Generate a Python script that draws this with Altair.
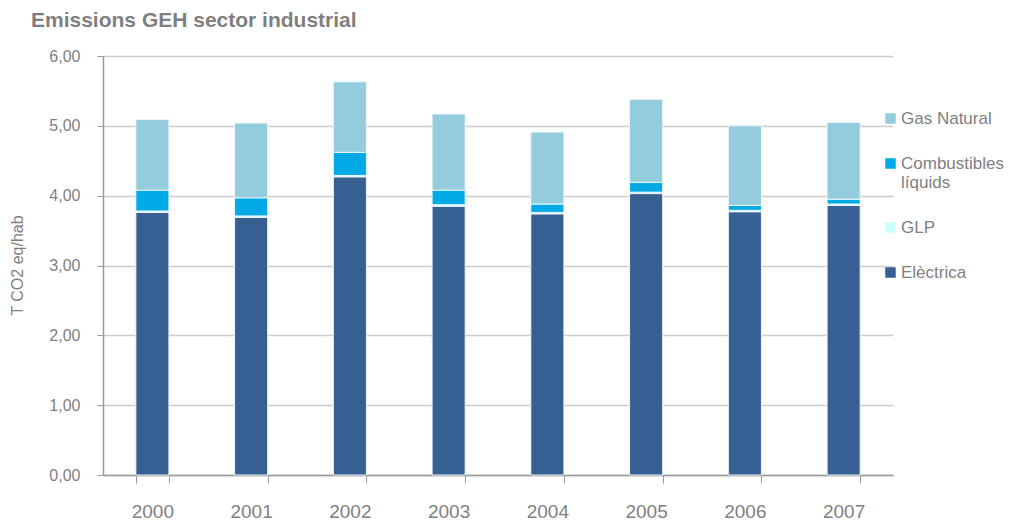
import altair as alt
import pandas as pd

years = ["2000", "2001", "2002", "2003", "2004", "2005", "2006", "2007"]
electrica = [3.76, 3.69, 4.27, 3.85, 3.74, 4.03, 3.77, 3.86]
glp = [0.02, 0.02, 0.02, 0.02, 0.02, 0.02, 0.02, 0.02]
combustibles = [0.30, 0.26, 0.33, 0.21, 0.12, 0.14, 0.07, 0.07]
gas_natural = [1.01, 1.07, 1.01, 1.09, 1.03, 1.19, 1.14, 1.10]

series_names = ["Gas Natural", "Combustibles líquids", "GLP", "Elèctrica"]
series_colors = ["#93CDDD", "#00AAE6", "#CCFFFF", "#366092"]
stack_rank = {"Elèctrica": 0, "GLP": 1, "Combustibles líquids": 2, "Gas Natural": 3}

rows = []
for name, vals in [("Elèctrica", electrica), ("GLP", glp),
                   ("Combustibles líquids", combustibles), ("Gas Natural", gas_natural)]:
    for y, v in zip(years, vals):
        rows.append({"year": y, "serie": name, "value": v, "rank": stack_rank[name]})
df = pd.DataFrame(rows)

FONT = "Liberation Sans"
GRAY = "#808080"

chart = alt.Chart(df).mark_bar(stroke="#F0F4FA", strokeWidth=1).encode(
    x=alt.X("year:N", title=None,
            scale=alt.Scale(paddingInner=0.665, paddingOuter=0.3325),
            axis=alt.Axis(labelAngle=0, tickBand="extent", tickSize=8,
                          labelPadding=19, labelFontSize=19, labelColor=GRAY,
                          labelFont=FONT, domainColor="#999999", tickColor="#999999",
                          domainWidth=1.5, tickWidth=1, grid=False)),
    y=alt.Y("value:Q", stack="zero",
            scale=alt.Scale(domain=[0, 6]),
            axis=alt.Axis(values=[0, 1, 2, 3, 4, 5, 6], title="T CO2 eq/hab",
                          labelExpr="replace(format(datum.value, '.2f'), '.', ',')",
                          labelFontSize=16, labelColor=GRAY, labelFont=FONT,
                          labelPadding=17, tickSize=6, tickColor="#999999",
                          domainColor="#999999", domainWidth=1.5,
                          gridColor="#CCCCCC", gridWidth=1.5,
                          titleFont=FONT, titleFontSize=16, titleColor=GRAY,
                          titleFontWeight="normal", titleAngle=-90,
                          titleX=-86, titleY=209, titleAlign="center",
                          titleBaseline="middle")),
    color=alt.Color("serie:N",
                    scale=alt.Scale(domain=series_names, range=series_colors),
                    legend=alt.Legend(title=None, orient="none", legendX=779, legendY=54,
                                      symbolType="square", symbolSize=110,
                                      symbolStrokeWidth=0, labelFont=FONT,
                                      labelFontSize=17, labelColor=GRAY,
                                      labelOffset=2, rowPadding=27, labelLimit=200,
                                      labelExpr="datum.label == 'Combustibles líquids' ? ['Combustibles', 'líquids'] : datum.label")),
    order=alt.Order("rank:Q", sort="ascending"),
).properties(
    width=790, height=419,
    title=alt.TitleParams("Emissions GEH sector industrial", anchor="start",
                          dx=22, offset=17, font=FONT, fontSize=21,
                          fontWeight="bold", color="#7F7F7F"),
    autosize=alt.AutoSizeParams(type="none"),
    padding={"left": 95, "top": 48, "right": 114, "bottom": 55},
).configure_view(stroke=None)

chart.save("out.html", embed_options={"renderer": "svg", "actions": False})
